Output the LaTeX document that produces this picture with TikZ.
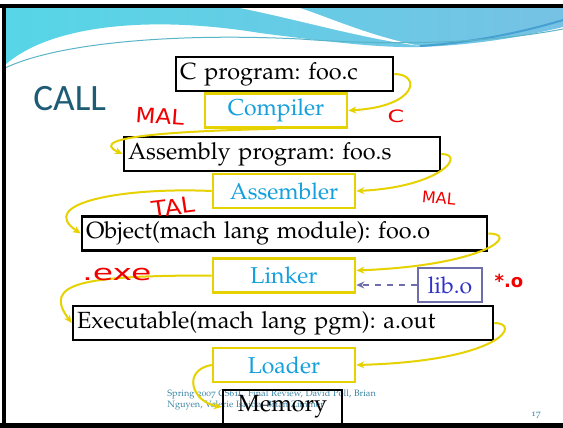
\documentclass[tikz,border=0pt]{standalone}
\usepackage[T1]{fontenc}
\usepackage{fontspec}
\usetikzlibrary{arrows.meta}
\newfontfamily\callfont{Carlito}
\newfontfamily\notefont{DejaVu Sans}
\newcommand{\pala}{\fontencoding{T1}\fontfamily{ppl}\selectfont}
\newcommand{\palaosf}{\fontencoding{T1}\fontfamily{pplj}\selectfont}
\definecolor{callblue}{RGB}{30,92,118}
\definecolor{tooltext}{RGB}{20,160,220}
\definecolor{toolyellow}{RGB}{230,210,0}
\definecolor{libframe}{RGB}{110,110,170}
\definecolor{libtext}{RGB}{50,50,200}
\definecolor{penred}{RGB}{240,0,0}
\definecolor{footteal}{RGB}{58,134,168}
\definecolor{hdA}{RGB}{86,214,230}
\definecolor{hdB}{RGB}{160,216,232}
\definecolor{hdC}{RGB}{118,194,228}
\definecolor{hdD}{RGB}{70,160,210}
\definecolor{hdE}{RGB}{90,180,200}
\frenchspacing

\begin{document}
\begin{tikzpicture}[x=0.5pt,y=-0.5pt,
	prog/.style={draw=black, fill=white, line width=1.3pt, inner xsep=2pt, inner ysep=0pt,
		minimum height=17pt, align=left, font=\pala\fontsize{11.7}{13}\selectfont},
	tool/.style={draw=toolyellow, fill=white, line width=1.3pt, text=tooltext,
		minimum width=71pt, minimum height=17pt, inner sep=0pt, font=\pala\fontsize{11.5}{13}\selectfont},
	flow/.style={draw=toolyellow, line width=1pt, -{Stealth[length=4pt,width=3.5pt]}},
	note/.style={text=penred, inner sep=0pt, font=\notefont}]
	\useasboundingbox (0,0) rectangle (563,428);
	\fill[white] (0,0) rectangle (563,428);

	% header swoosh
	\shade[left color=hdA, middle color=hdB, right color=hdC] (5,8) -- (563,8) -- (563,27)
		.. controls (530,35) and (480,45) .. (420,47)
		.. controls (380,48) and (330,42) .. (260,33)
		.. controls (150,15) and (50,25) .. (5,65) -- cycle;
	\fill[white] (240,8) .. controls (300,20) and (360,38) .. (420,46)
		.. controls (370,36) and (330,18) .. (300,8) -- cycle;
	\draw[hdD, line width=1pt] (420,46) .. controls (480,42) and (530,30) .. (563,20);
	\draw[hdE, line width=0.5pt] (5,68) .. controls (60,42) and (180,33) .. (300,39)
		.. controls (380,45) and (480,45) .. (563,29);

	% frame
	\fill[black] (0,4) rectangle (563,8);
	\fill[black] (2,4) rectangle (6,428);
	\fill[black] (0,423) rectangle (563,428);

	\node[anchor=base west, inner sep=0pt, text=callblue, font=\callfont\fontsize{18.6}{20}\selectfont] (title) at (33,110) {CALL};

	% footer
	\node[anchor=base west, inner sep=0pt, align=left, text=footteal,
		font=\palaosf\fontsize{4.6}{5.5}\selectfont] (foot) at (167,407)
		{Spring 2007 CS61C Final Review, David Poll, Brian\\Nguyen, Valerie Ishida, Brian Zimmer};
	\node[anchor=base, inner sep=0pt, text=footteal, font=\palaosf\fontsize{4.6}{5.5}\selectfont] (page) at (536,416) {17};

	% files
	\foreach \n/\w/\x/\y/\t in {cprog/104.5/284.5/74/{C program: foo.c},
		asm/154/282/154/{Assembly program: foo.s},
		obj/198.5/284.5/233.5/{Object(mach lang module): foo.o},
		exe/206/283/323/{Executable(mach lang pgm): a.out}}
		\node[prog, text width=\w pt] (\n) at (\x,\y) {\t};

	% tools
	\foreach \n/\x/\y/\t in {compiler/276/110.5/Compiler, assembler/284/191/Assembler,
		linker/284/275.5/Linker, loader/284/365/Loader}
		\node[tool] (\n) at (\x,\y) {\t};

	\node[draw=libframe, line width=1.1pt, text=libtext, minimum width=32pt, minimum height=17pt,
		inner sep=0pt, font=\pala\fontsize{11.5}{13}\selectfont] (libo) at (450,285) {lib.o};
	\node[draw=black, line width=1.3pt, minimum width=59.5pt, minimum height=17pt, inner sep=0pt,
		font=\pala\fontsize{11.7}{13}\selectfont] (memory) at (282.5,407) {Memory};

	% arrows
	\draw[flow] (cprog.east) .. controls +(27,0) and +(70,-4) .. (compiler.east);
	\draw[flow] (compiler.south) .. controls +(-90,2) and +(-40,-18) .. (asm.west);
	\draw[flow] (asm.east) .. controls +(25,0) and +(85,-4) .. (assembler.east);
	\draw[flow] (assembler.west) .. controls +(-90,-4) and +(-45,-30) .. (obj.west);
	\draw[flow] (obj.east) .. controls +(32,0) and +(130,-5) .. (linker.4);
	\draw[flow] (linker.west) .. controls +(-130,0) and +(-30,-40) .. (exe.west);
	\draw[flow] (exe.east) .. controls +(28,0) and +(145,-4) .. (loader.east);
	\draw[flow] (loader.west) .. controls +(-30,5) and +(-30,-5) .. (memory.west);
	\draw[libframe, line width=1pt, dashed, -{Stealth[length=4pt,width=3.5pt]}] (libo.west) -- (libo.west -| linker.east);

	% pen notes
	\node[note, font=\notefont\fontsize{10.5}{12}\selectfont, xscale=1.1, rotate=-4] (mal) at (160,116) {MAL};
	\node[note, font=\notefont\fontsize{8.5}{10}\selectfont, xscale=1.4] (cnote) at (396,116) {C};
	\node[note, font=\notefont\fontsize{11}{12}\selectfont, xscale=1.1, rotate=8] (tal) at (173,207) {TAL};
	\node[note, font=\notefont\fontsize{8}{10}\selectfont, rotate=-5] (mal2) at (439,198) {MAL};
	\node[note, font=\notefont\fontsize{11}{12}\selectfont, xscale=1.5] (exenote) at (117,274) {.exe};
	\node[note, font=\notefont\bfseries\fontsize{9}{10}\selectfont] (onote) at (509,281) {*.o};
\end{tikzpicture}
\end{document}
